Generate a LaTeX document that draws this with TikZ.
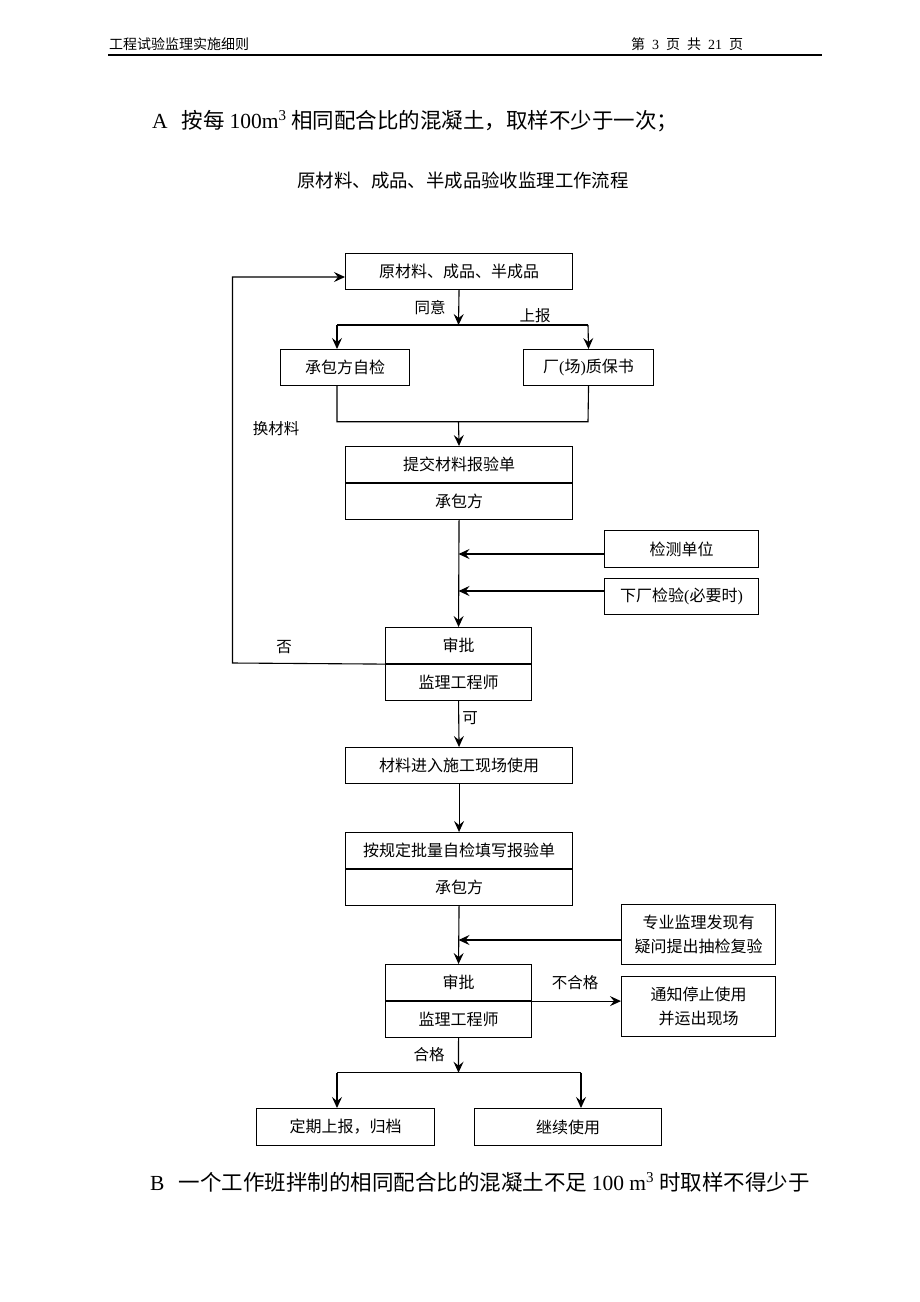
\documentclass[tikz,border=0pt]{standalone}
\usepackage{fontspec}
\setmainfont{Liberation Serif}
\newfontfamily\cjk{Noto Sans CJK SC}
\usetikzlibrary{arrows.meta}

\tikzset{
  blk/.style={draw,line width=1.1pt,anchor=north west,inner sep=0pt,align=center,font=\cjk\fontsize{16}{24}\selectfont},
  lbl/.style={inner sep=0pt,font=\cjk\fontsize{15.5}{18}\selectfont},
  arr/.style={line width=1.1pt,-{Stealth[length=11pt,width=10pt,inset=4pt]}},
  ln/.style={line width=1.1pt}
}

\begin{document}
\begin{tikzpicture}[x=1pt,y=-1pt]

\fill [white] (0,0) rectangle (920,1302);
\useasboundingbox (0,0) rectangle (920,1302);

\node [anchor=west,inner sep=0pt,font=\cjk\fontsize{14}{16}\selectfont](hdl) at (109,44) {工程试验监理实施细则};
\node [anchor=west,inner sep=0pt,font=\cjk\fontsize{14}{16}\selectfont](hdr) at (631,44) {第\hspace{7pt}{\rmfamily 3}\hspace{7pt}页\hspace{7pt}共\hspace{7pt}{\rmfamily 21}\hspace{7pt}页};
\draw [line width=1.5pt] (108,55)--(822,55);

\node [anchor=west,inner sep=0pt,font=\cjk\fontsize{21.5}{24}\selectfont](lineA) at (152,121) {{\rmfamily A}\hspace{14pt}按每 {\rmfamily 100m\textsuperscript{3}} 相同配合比的混凝土，取样不少于一次；};
\node [inner sep=0pt,font=\cjk\fontsize{18.4}{20}\selectfont](title) at (463,181) {原材料、成品、半成品验收监理工作流程};
\node [anchor=west,inner sep=0pt,font=\cjk\fontsize{21.5}{24}\selectfont](lineB) at (150,1182) {{\rmfamily B}\hspace{14pt}一个工作班拌制的相同配合比的混凝土不足 {\rmfamily 100 m\textsuperscript{3}} 时取样不得少于};


\node [blk,minimum width=227pt,minimum height=36pt](box1)  at (345,253) {原材料、成品、半成品};
\node [blk,minimum width=129pt,minimum height=36pt](box2)  at (280,349) {承包方自检};
\node [blk,minimum width=130pt,minimum height=36pt](box3)  at (523,349) {厂{\rmfamily(}场{\rmfamily)}质保书};
\node [blk,minimum width=227pt,minimum height=36pt](box4a) at (345,446) {提交材料报验单};
\node [blk,minimum width=227pt,minimum height=36pt](box4b) at (box4a.south west) {承包方};
\node [blk,minimum width=154pt,minimum height=37pt](chk)   at (604,530) {检测单位};
\node [blk,minimum width=154pt,minimum height=36pt](fac)   at (604,578) {下厂检验{\rmfamily(}必要时{\rmfamily)}};
\node [blk,minimum width=146pt,minimum height=36pt](box5a) at (385,627) {审批};
\node [blk,minimum width=146pt,minimum height=36pt](box5b) at (box5a.south west) {监理工程师};
\node [blk,minimum width=227pt,minimum height=36pt](box6)  at (345,747) {材料进入施工现场使用};
\node [blk,minimum width=227pt,minimum height=36pt](box7a) at (345,832) {按规定批量自检填写报验单};
\node [blk,minimum width=227pt,minimum height=36pt](box7b) at (box7a.south west) {承包方};
\node [blk,minimum width=154pt,minimum height=60pt](rev)   at (621,904) {专业监理发现有\\疑问提出抽检复验};
\node [blk,minimum width=146pt,minimum height=36pt](box8a) at (385,964) {审批};
\node [blk,minimum width=146pt,minimum height=36pt](box8b) at (box8a.south west) {监理工程师};
\node [blk,minimum width=154pt,minimum height=60pt](stop)  at (621,976) {通知停止使用\\并运出现场};
\node [blk,minimum width=178pt,minimum height=37pt](arch)  at (256,1108) {定期上报，归档};
\node [blk,minimum width=187pt,minimum height=37pt](cont)  at (474,1108) {继续使用};


\node [lbl](agree) at (430,308)  {同意};
\node [lbl](report) at (535,316) {上报};
\node [lbl](swap)  at (276,429)  {换材料};
\node [lbl](no)    at (284,647)  {否};
\node [lbl](yes)   at (470,718)  {可};
\node [lbl](fail)  at (575,983)  {不合格};
\node [lbl](pass)  at (429,1055) {合格};


\coordinate (fork1)  at (458.5,325);
\coordinate (fork1l) at (337,325);
\coordinate (fork1r) at (588,325);
\coordinate (join1)  at (458.5,421.7);
\coordinate (join1l) at (337,421.7);
\coordinate (join1r) at (588,421.7);
\coordinate (in1)    at (458.5,554);
\coordinate (in2)    at (458.5,591);
\coordinate (back1)  at (232.5,663);
\coordinate (back2)  at (232.5,277);
\coordinate (in3)    at (458.5,940);
\coordinate (fork2)  at (458.5,1072.7);
\coordinate (fork2l) at (337,1072.7);
\coordinate (fork2r) at (581,1072.7);

\draw [arr] (box1.south)--(fork1);
\draw [ln]  (fork1l)--(fork1r);
\draw [arr] (fork1l)--(fork1l |- box2.north);
\draw [arr] (fork1r)--(box3.north);
\draw [ln]  (join1l |- box2.south)--(join1l)--(join1r)--(box3.south);
\draw [arr] (join1)--(box4a.north);
\draw [arr] (box4b.south)--(box5a.north);
\draw [arr] (in1 -| chk.west)--(in1);
\draw [arr] (in2 -| fac.west)--(in2);
\draw [arr] (box5a.south west)--(back1)--(back2)--(back2 -| box1.west);
\draw [arr] (box5b.south)--(box6.north);
\draw [arr] (box6.south)--(box7a.north);
\draw [arr] (box7b.south)--(box8a.north);
\draw [arr] (in3 -| rev.west)--(in3);
\draw [arr] (box8a.south east)--(box8a.south east -| stop.west);
\draw [arr] (box8b.south)--(fork2);
\draw [ln]  (fork2l)--(fork2r);
\draw [arr] (fork2l)--(fork2l |- arch.north);
\draw [arr] (fork2r)--(fork2r |- cont.north);

\end{tikzpicture}
\end{document}
